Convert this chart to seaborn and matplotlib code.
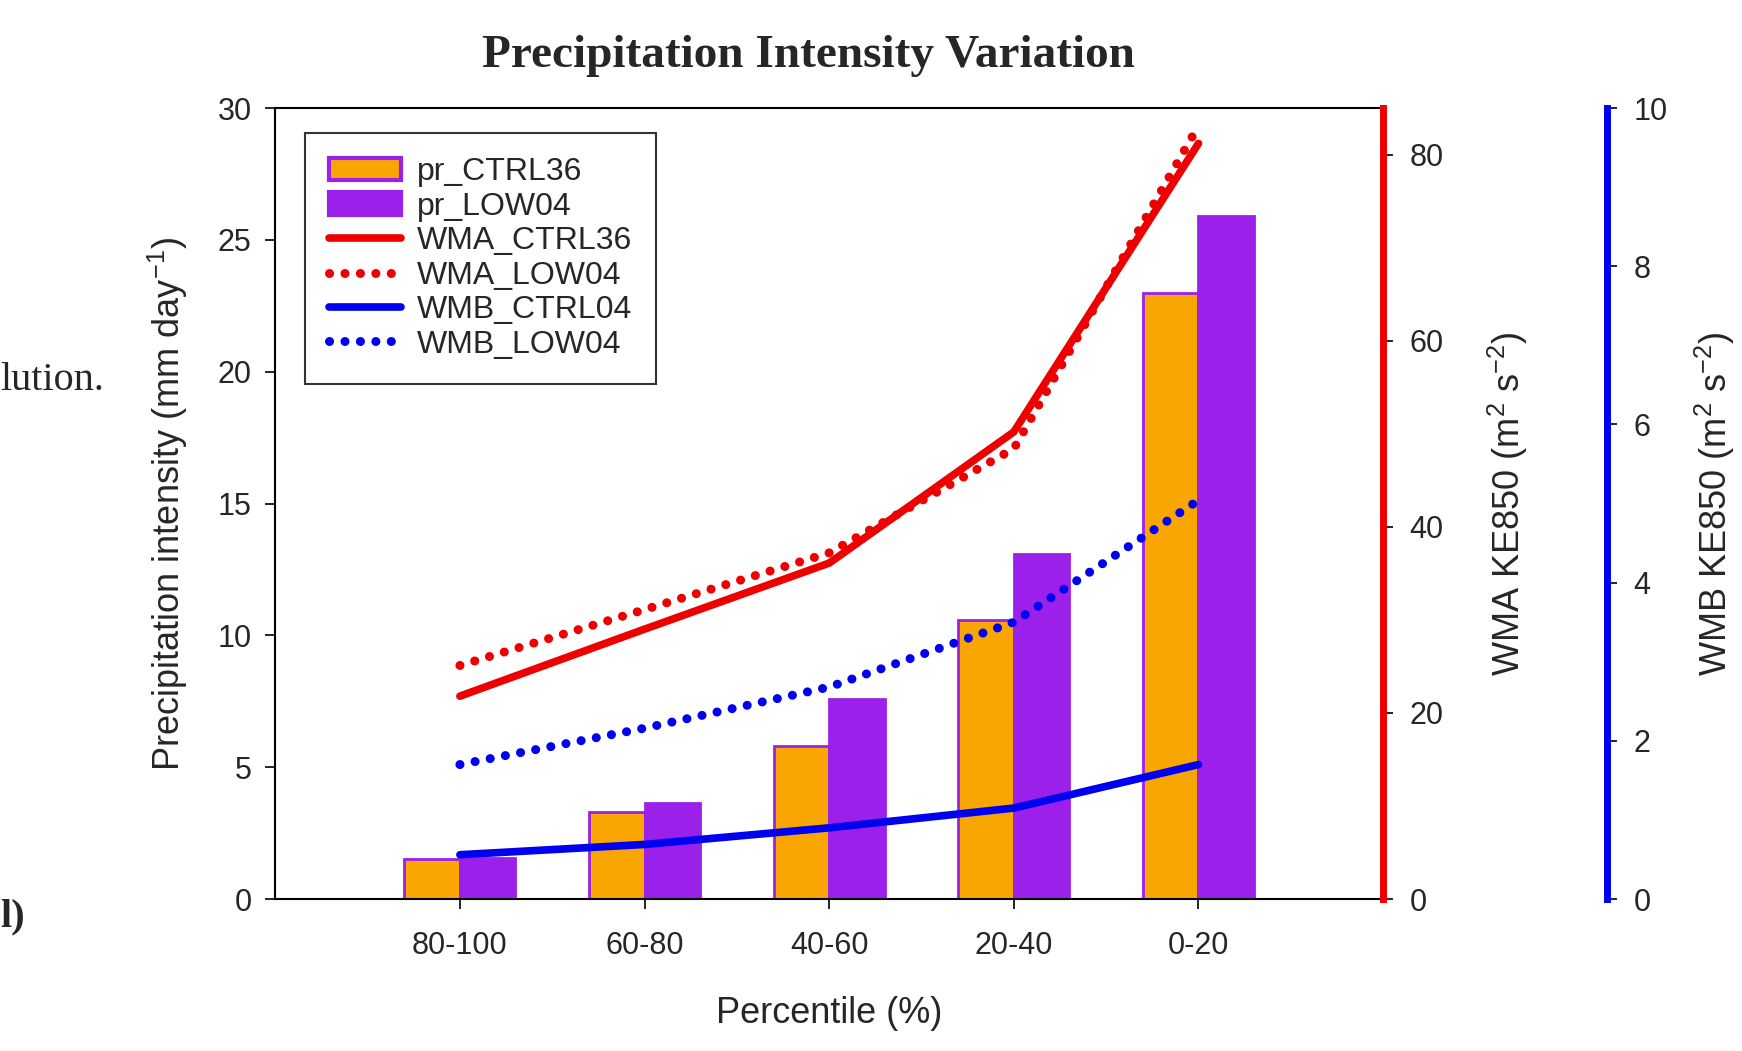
import numpy as np
import pandas as pd
import matplotlib
matplotlib.use("Agg")
import matplotlib.pyplot as plt
import seaborn as sns
from matplotlib.patches import Patch
from matplotlib.lines import Line2D

# values
percentiles = ['80-100', '60-80', '40-60', '20-40', '0-20']
pr_ctrl36 = [1.5, 3.3, 5.8, 10.6, 23.0]
pr_low04 = [1.55, 3.65, 7.6, 13.1, 25.9]
wma_ctrl36 = [21.8, 29.0, 36.1, 50.2, 81.2]
wma_low04 = [25.1, 31.1, 37.2, 48.4, 83.1]
wmb_ctrl04 = [0.56, 0.69, 0.90, 1.15, 1.70]
wmb_low04 = [1.70, 2.16, 2.68, 3.50, 5.04]

orange = '#F9A602'
purple = '#9B20EA'
red = '#EE0000'
blue = '#0000F0'

sns.set_theme(style="ticks")
plt.rcParams['font.family'] = ['Liberation Sans', 'DejaVu Sans']
plt.rcParams['mathtext.fontset'] = 'custom'
plt.rcParams['mathtext.rm'] = 'Liberation Sans'

dots = (0, (0.01, 1.7))

fig = plt.figure(figsize=(17.42, 10.51), dpi=100)
ax = fig.add_axes([0.158, 0.1446, 0.636, 0.7526])

bars = pd.DataFrame({
    'Percentile': percentiles * 2,
    'pr': pr_ctrl36 + pr_low04,
    'run': ['pr_CTRL36'] * 5 + ['pr_LOW04'] * 5,
})
sns.barplot(data=bars, x='Percentile', y='pr', hue='run', order=percentiles,
            palette=[orange, purple], width=0.6, ax=ax, legend=False,
            edgecolor=purple, linewidth=2, saturation=1)

ax.set_xlim(-1, 5)
ax.set_ylim(0, 30)
ax.set_yticks(range(0, 31, 5))
ax.set_xlabel('Percentile (%)', fontsize=26, labelpad=25)
ax.set_ylabel('Precipitation intensity (mm day$^{-1}$)', fontsize=26, labelpad=20)
ax.tick_params(axis='both', labelsize=22, length=7, width=1.2, pad=10, color='black')
ax.tick_params(axis='x', pad=16)
for s in ['top', 'bottom', 'left']:
    ax.spines[s].set_linewidth(1.5)
    ax.spines[s].set_color('black')
ax.spines['right'].set_visible(False)

xpos = np.arange(len(percentiles))

# WMA axis (red)
ax2 = ax.twinx()
sns.lineplot(x=xpos, y=wma_ctrl36, color=red, lw=5.5, ax=ax2, solid_capstyle='round')
sns.lineplot(x=xpos, y=wma_low04, color=red, lw=6.5, ax=ax2,
             linestyle=dots, dash_capstyle='round')
ax2.set_ylim(0, 85)
ax2.set_yticks(range(0, 81, 20))
ax2.set_ylabel('WMA KE850 (m$^2$ s$^{-2}$)', fontsize=26, labelpad=30)
ax2.tick_params(axis='y', labelsize=22, length=7, width=1.2, pad=12, color='black')
for s in ['top', 'bottom', 'left']:
    ax2.spines[s].set_visible(False)
ax2.spines['right'].set_color(red)
ax2.spines['right'].set_linewidth(5)

# WMB axis (blue)
ax3 = ax.twinx()
ax3.spines['right'].set_position(('axes', 1.202))
sns.lineplot(x=xpos, y=wmb_ctrl04, color=blue, lw=5.5, ax=ax3, solid_capstyle='round')
sns.lineplot(x=xpos, y=wmb_low04, color=blue, lw=6.5, ax=ax3,
             linestyle=dots, dash_capstyle='round')
ax3.set_ylim(0, 10)
ax3.set_yticks(range(0, 11, 2))
ax3.set_ylabel('WMB KE850 (m$^2$ s$^{-2}$)', fontsize=26, labelpad=18)
ax3.tick_params(axis='y', labelsize=22, length=7, width=1.2, pad=12, color='black')
for s in ['top', 'bottom', 'left']:
    ax3.spines[s].set_visible(False)
ax3.spines['right'].set_color(blue)
ax3.spines['right'].set_linewidth(5)

ax2.set_xlim(-1, 5)
ax3.set_xlim(-1, 5)

handles = [
    Patch(facecolor=orange, edgecolor=purple, linewidth=3),
    Patch(facecolor=purple, edgecolor=purple, linewidth=3),
    Line2D([], [], color=red, lw=5.5),
    Line2D([], [], color=red, lw=6.5, ls=dots, dash_capstyle='round'),
    Line2D([], [], color=blue, lw=5.5),
    Line2D([], [], color=blue, lw=6.5, ls=dots, dash_capstyle='round'),
]
labels = ['pr_CTRL36', 'pr_LOW04', 'WMA_CTRL36', 'WMA_LOW04', 'WMB_CTRL04', 'WMB_LOW04']
leg = ax3.legend(handles, labels, loc='upper left', bbox_to_anchor=(0.027, 0.968),
                 bbox_transform=ax.transAxes, borderaxespad=0, fontsize=23,
                 fancybox=False, frameon=True, handlelength=2.25, labelspacing=0.14,
                 handletextpad=0.5, borderpad=0.75)
leg.get_frame().set_edgecolor('black')
leg.get_frame().set_linewidth(1.5)

fig.text(0.464, 0.947, 'Precipitation Intensity Variation', ha='center', va='center',
         fontsize=34, fontweight='bold', family='Liberation Serif')
fig.text(0.0, 0.638, 'lution.', ha='left', va='center', fontsize=29,
         family='Liberation Serif')
fig.text(0.0, 0.128, 'l)', ha='left', va='center', fontsize=29, fontweight='bold',
         family='Liberation Serif')

fig.savefig('out.png', dpi=100, facecolor='white')
